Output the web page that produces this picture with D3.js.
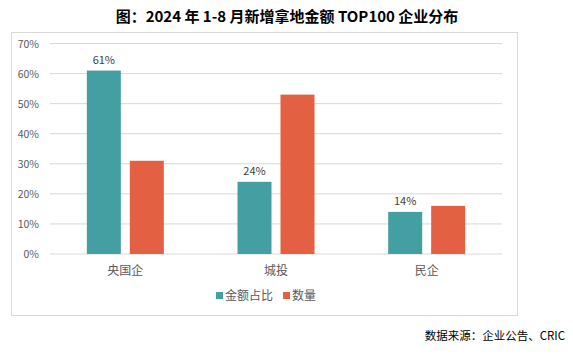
<!DOCTYPE html>
<html><head><meta charset="utf-8">
<script src="https://cdn.jsdelivr.net/npm/d3@7"></script>
<style>body{margin:0;background:#fff}svg{display:block}</style>
</head><body>
<svg id="c" width="573" height="354"></svg>
<script>
const categories = ["央国企", "城投", "民企"];
const seriesNames = ["金额占比", "数量"];
const amountShare = [61, 24, 14];
const countShare = [31, 53, 16];
const yTicks = [0, 10, 20, 30, 40, 50, 60, 70];
const colors = ["#449FA3", "#E46043"];

const svg = d3.select("#c");
const font = "'Noto Sans CJK SC', 'Noto Sans', sans-serif";

svg.append("text").attr("x", 287).attr("y", 22).attr("text-anchor", "middle")
  .attr("font-family", font).attr("font-weight", "bold").attr("font-size", 15)
  .attr("fill", "#000").text("图：2024 年 1-8 月新增拿地金额 TOP100 企业分布");

svg.append("rect").attr("x", 11.5).attr("y", 32.5).attr("width", 506).attr("height", 283)
  .attr("fill", "#fff").attr("stroke", "#d9d9d9");

const x0 = d3.scaleBand().domain(categories).range([50, 502]);
const y = d3.scaleLinear().domain([0, 70]).range([254, 43.5]);

const grid = svg.append("g");
yTicks.forEach(t => {
  grid.append("line").attr("x1", 50).attr("x2", 502).attr("y1", y(t)).attr("y2", y(t))
    .attr("stroke", "#d9d9d9").attr("stroke-width", 1);
  svg.append("text").attr("x", 39).attr("y", y(t) + 4).attr("text-anchor", "end")
    .attr("font-family", font).attr("font-size", 10.5).attr("fill", "#595959").text(t + "%");
});

const bw = 34, gap = 9;
const data = [amountShare, countShare];
data.forEach((vals, si) => {
  categories.forEach((c, i) => {
    const cx = x0(c) + x0.bandwidth() / 2;
    const xl = si === 0 ? cx - gap / 2 - bw : cx + gap / 2;
    svg.append("rect").attr("x", xl).attr("y", y(vals[i])).attr("width", bw)
      .attr("height", y(0) - y(vals[i])).attr("fill", colors[si]);
    if (si === 0) {
      svg.append("text").attr("x", xl + bw / 2).attr("y", y(vals[i]) - 7).attr("text-anchor", "middle")
        .attr("font-family", font).attr("font-size", 11).attr("fill", "#404040").text(vals[i] + "%");
    }
  });
});

categories.forEach(c => {
  svg.append("text").attr("x", x0(c) + x0.bandwidth() / 2).attr("y", 275).attr("text-anchor", "middle")
    .attr("font-family", font).attr("font-size", 12).attr("fill", "#595959").text(c);
});

const legX = [216, 283];
seriesNames.forEach((n, i) => {
  svg.append("rect").attr("x", legX[i]).attr("y", 292).attr("width", 7).attr("height", 7).attr("fill", colors[i]);
  svg.append("text").attr("x", legX[i] + 9).attr("y", 300).attr("font-family", font)
    .attr("font-size", 12).attr("fill", "#595959").text(n);
});

svg.append("text").attr("x", 565).attr("y", 340).attr("text-anchor", "end")
  .attr("font-family", font).attr("font-size", 11.5).attr("fill", "#000")
  .text("数据来源：企业公告、CRIC");
</script>
</body></html>
